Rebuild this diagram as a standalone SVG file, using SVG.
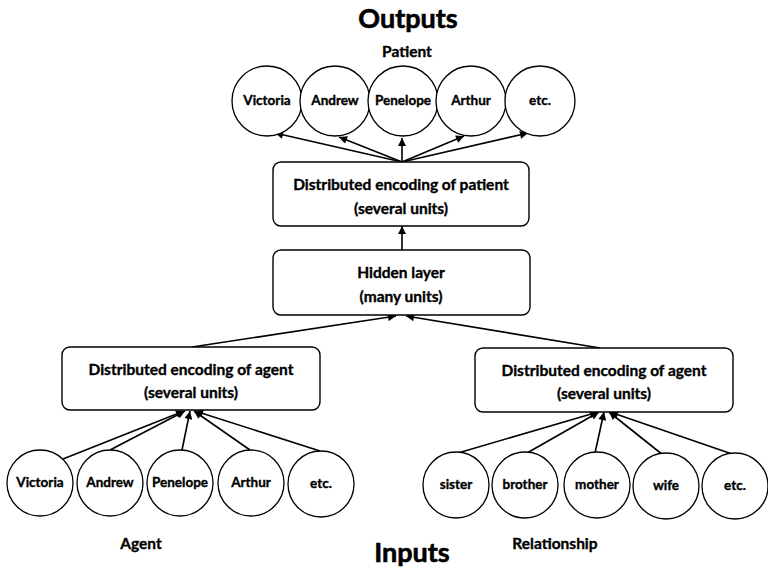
<svg xmlns="http://www.w3.org/2000/svg" width="768" height="572" viewBox="0 0 768 572">
<defs>
<marker id="ah" viewBox="0 0 10 10" refX="10" refY="5" markerWidth="10" markerHeight="8" markerUnits="userSpaceOnUse" orient="auto">
<path d="M0,0 L10,5 L0,10 z" fill="#000"/>
</marker>
</defs>
<style>
text{font-family:Lato,"Open Sans","Liberation Sans",sans-serif;font-weight:bold;fill:#000;stroke:#000;stroke-width:0.35;text-anchor:middle}
.big{font-size:27px;stroke-width:0.6}
.lbl{font-size:15.5px}
.box{font-size:15.5px}
.unit{font-size:13.5px}
circle{fill:#fff;stroke:#000;stroke-width:1.3}
.n rect{fill:#fff;stroke:#000;stroke-width:1.4}
.c line{stroke:#000;stroke-width:1.6;marker-end:url(#ah)}
</style>
<text class="big" x="408" y="28">Outputs</text>
<text class="lbl" x="407" y="57">Patient</text>
<text class="lbl" x="141" y="549">Agent</text>
<text class="lbl" x="555" y="549">Relationship</text>
<text class="big" x="412" y="562">Inputs</text>

<g class="c" id="connectors">
<line x1="402" y1="162" x2="275" y2="133"/>
<line x1="402" y1="162" x2="339" y2="137"/>
<line x1="402" y1="162" x2="402" y2="138"/>
<line x1="402" y1="162" x2="464" y2="136"/>
<line x1="402" y1="162" x2="528" y2="133"/>
<line x1="402" y1="250" x2="402" y2="226"/>
<line x1="192" y1="347" x2="396" y2="316"/>
<line x1="600" y1="348" x2="406" y2="316"/>
<line x1="63" y1="459" x2="184" y2="411"/>
<line x1="110" y1="450" x2="185" y2="411"/>
<line x1="182" y1="450" x2="190" y2="411"/>
<line x1="250" y1="450" x2="194" y2="411"/>
<line x1="320" y1="451" x2="195" y2="411"/>
<line x1="458" y1="453" x2="598" y2="412"/>
<line x1="527" y1="453" x2="599" y2="412"/>
<line x1="595" y1="453" x2="604" y2="412"/>
<line x1="663" y1="455" x2="609" y2="412"/>
<line x1="735" y1="455" x2="610" y2="412"/>
</g>

<g id="out-victoria"><circle cx="267" cy="101" r="35"/><text class="unit" x="267" y="105">Victoria</text></g>
<g id="out-andrew"><circle cx="335" cy="101" r="35"/><text class="unit" x="335" y="105">Andrew</text></g>
<g id="out-penelope"><circle cx="403" cy="101" r="35"/><text class="unit" x="403" y="105">Penelope</text></g>
<g id="out-arthur"><circle cx="471" cy="101" r="35"/><text class="unit" x="471" y="105">Arthur</text></g>
<g id="out-etc"><circle cx="540" cy="101" r="35"/><text class="unit" x="540" y="105">etc.</text></g>

<g class="n" id="patient-encoding"><rect x="273" y="162" width="256" height="64" rx="8"/><text class="box" x="401" y="190">Distributed encoding of patient</text><text class="box" x="401" y="214">(several units)</text></g>
<g class="n" id="hidden"><rect x="273" y="250" width="257" height="65" rx="8"/><text class="box" x="401" y="278">Hidden layer</text><text class="box" x="401" y="302">(many units)</text></g>
<g class="n" id="agent-encoding"><rect x="62" y="347" width="258" height="63" rx="8"/><text class="box" x="191" y="375">Distributed encoding of agent</text><text class="box" x="191" y="398">(several units)</text></g>
<g class="n" id="relationship-encoding"><rect x="475" y="348" width="258" height="64" rx="8"/><text class="box" x="604" y="376">Distributed encoding of agent</text><text class="box" x="604" y="399">(several units)</text></g>

<g id="in-victoria"><circle cx="40" cy="483" r="33"/><text class="unit" x="40" y="487">Victoria</text></g>
<g id="in-andrew"><circle cx="110" cy="483" r="33"/><text class="unit" x="110" y="487">Andrew</text></g>
<g id="in-penelope"><circle cx="180" cy="483" r="33"/><text class="unit" x="180" y="487">Penelope</text></g>
<g id="in-arthur"><circle cx="251" cy="483" r="33"/><text class="unit" x="251" y="487">Arthur</text></g>
<g id="in-etc"><circle cx="321" cy="484" r="33"/><text class="unit" x="321" y="488">etc.</text></g>

<g id="rel-sister"><circle cx="456" cy="485" r="33"/><text class="unit" x="456" y="489">sister</text></g>
<g id="rel-brother"><circle cx="525" cy="485" r="33"/><text class="unit" x="525" y="489">brother</text></g>
<g id="rel-mother"><circle cx="597" cy="485" r="33"/><text class="unit" x="597" y="489">mother</text></g>
<g id="rel-wife"><circle cx="666" cy="486" r="33"/><text class="unit" x="666" y="490">wife</text></g>
<g id="rel-etc"><circle cx="735" cy="486" r="33"/><text class="unit" x="735" y="490">etc.</text></g>
</svg>
